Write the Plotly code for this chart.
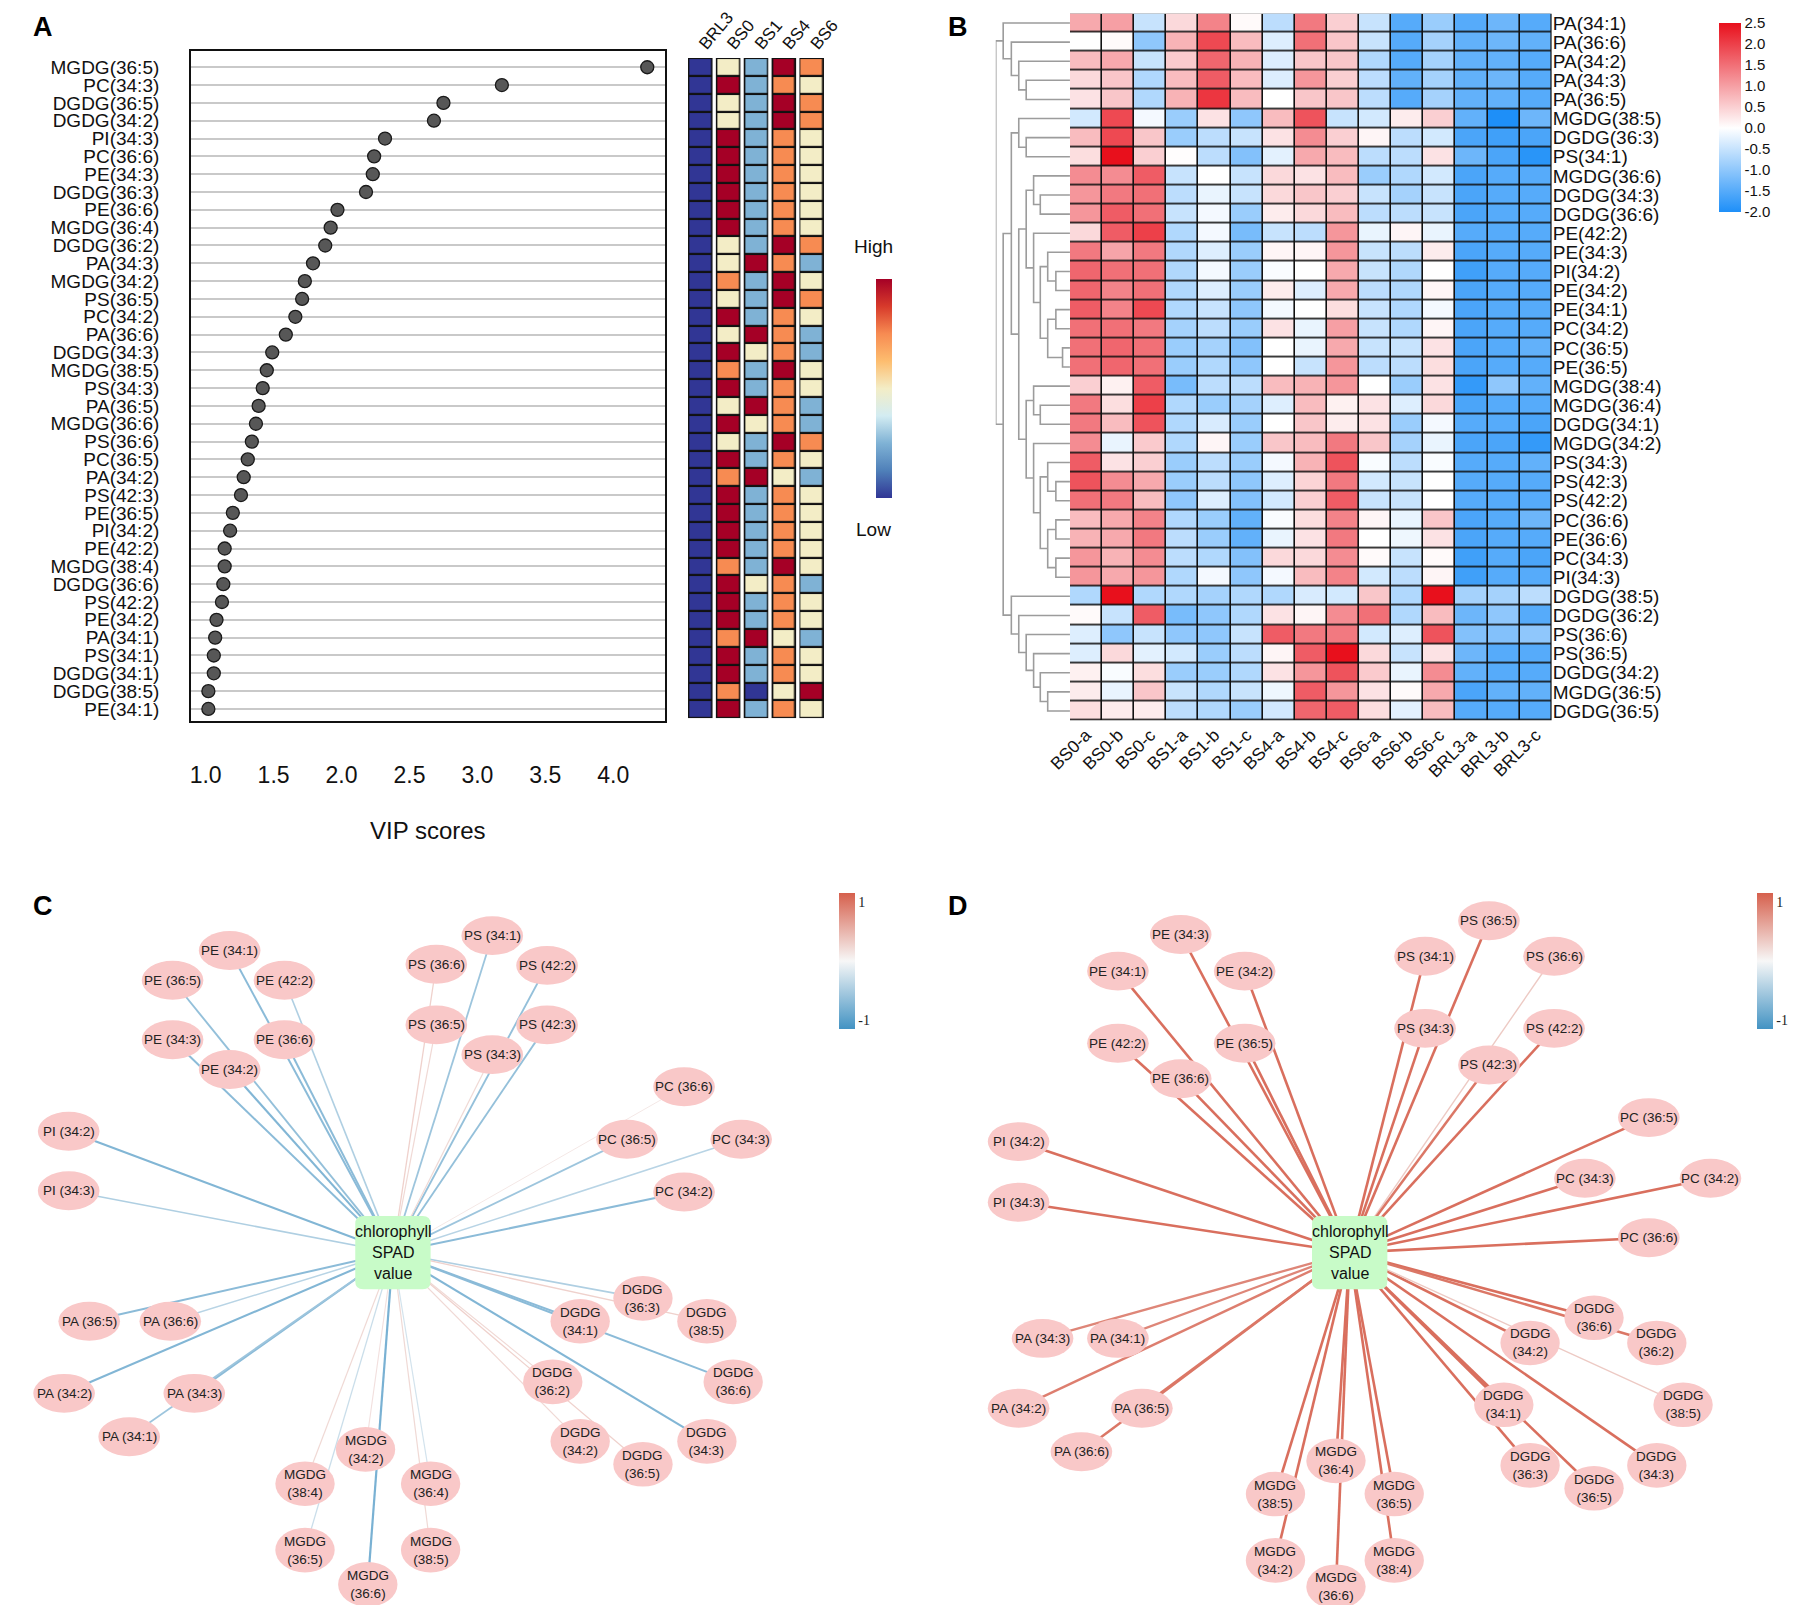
import plotly.graph_objects as go

# ---------------- placement helpers (layout only) ----------------
FIG_W, FIG_H = 1797, 1598


def px(x):
    return (x - 23.0) / 0.982 / 1568.0


def py(y):
    return 1 - (y - 7.0) / 1394.0


FONT = "Liberation Sans, Arial, sans-serif"
SERIF = "Liberation Serif, Times New Roman, serif"

# ---------------- Panel A data ----------------
vip_names = ["MGDG(36:5)", "PC(34:3)", "DGDG(36:5)", "DGDG(34:2)", "PI(34:3)", "PC(36:6)",
             "PE(34:3)", "DGDG(36:3)", "PE(36:6)", "MGDG(36:4)", "DGDG(36:2)", "PA(34:3)",
             "MGDG(34:2)", "PS(36:5)", "PC(34:2)", "PA(36:6)", "DGDG(34:3)", "MGDG(38:5)",
             "PS(34:3)", "PA(36:5)", "MGDG(36:6)", "PS(36:6)", "PC(36:5)", "PA(34:2)",
             "PS(42:3)", "PE(36:5)", "PI(34:2)", "PE(42:2)", "MGDG(38:4)", "DGDG(36:6)",
             "PS(42:2)", "PE(34:2)", "PA(34:1)", "PS(34:1)", "DGDG(34:1)", "DGDG(38:5)",
             "PE(34:1)"]
vip_scores = [4.25, 3.18, 2.75, 2.68, 2.32, 2.24, 2.23, 2.18, 1.97, 1.92, 1.88, 1.79,
              1.73, 1.71, 1.66, 1.59, 1.49, 1.45, 1.42, 1.39, 1.37, 1.34, 1.31, 1.28,
              1.26, 1.20, 1.18, 1.14, 1.14, 1.13, 1.12, 1.08, 1.07, 1.06, 1.06, 1.02,
              1.02]
x_ticks_vip = [1.0, 1.5, 2.0, 2.5, 3.0, 3.5, 4.0]
x_ticklabels_vip = ["1.0", "1.5", "2.0", "2.5", "3.0", "3.5", "4.0"]

# relative level (1 = Low ... 5 = High) for each group
group_names = ["BRL3", "BS0", "BS1", "BS4", "BS6"]
level_BRL3 = [1, 1, 1, 1, 1, 1, 1, 1, 1, 1, 1, 1, 1, 1, 1, 1, 1, 1, 1, 1, 1, 1, 1, 1, 1, 1, 1, 1, 1, 1, 1, 1, 1, 1, 1, 1, 1]
level_BS0 = [3, 5, 3, 3, 5, 5, 5, 5, 5, 5, 3, 3, 4, 3, 5, 3, 5, 4, 5, 3, 5, 3, 5, 4, 5, 5, 5, 5, 4, 5, 5, 5, 4, 5, 5, 4, 5]
level_BS1 = [2, 2, 2, 2, 2, 2, 2, 2, 2, 2, 2, 5, 2, 2, 2, 5, 3, 2, 2, 5, 3, 2, 2, 5, 2, 2, 2, 2, 2, 3, 2, 2, 5, 2, 2, 1, 2]
level_BS4 = [5, 4, 5, 5, 4, 4, 4, 4, 4, 4, 5, 4, 5, 5, 4, 4, 4, 5, 4, 4, 4, 5, 4, 3, 4, 4, 4, 4, 5, 4, 4, 4, 3, 4, 4, 3, 4]
level_BS6 = [4, 3, 4, 4, 3, 3, 3, 3, 3, 3, 4, 2, 3, 4, 3, 2, 2, 3, 3, 2, 2, 4, 3, 2, 3, 3, 3, 3, 3, 2, 3, 3, 2, 3, 3, 5, 3]

# ---------------- Panel B data ----------------
b_samples = ["BS0-a", "BS0-b", "BS0-c", "BS1-a", "BS1-b", "BS1-c", "BS4-a", "BS4-b", "BS4-c",
             "BS6-a", "BS6-b", "BS6-c", "BRL3-a", "BRL3-b", "BRL3-c"]
b_lipids = ["PA(34:1)", "PA(36:6)", "PA(34:2)", "PA(34:3)", "PA(36:5)", "MGDG(38:5)", "DGDG(36:3)",
            "PS(34:1)", "MGDG(36:6)", "DGDG(34:3)", "DGDG(36:6)", "PE(42:2)", "PE(34:3)", "PI(34:2)",
            "PE(34:2)", "PE(34:1)", "PC(34:2)", "PC(36:5)", "PE(36:5)", "MGDG(38:4)", "MGDG(36:4)",
            "DGDG(34:1)", "MGDG(34:2)", "PS(34:3)", "PS(42:3)", "PS(42:2)", "PC(36:6)", "PE(36:6)",
            "PC(34:3)", "PI(34:3)", "DGDG(38:5)", "DGDG(36:2)", "PS(36:6)", "PS(36:5)", "DGDG(34:2)",
            "MGDG(36:5)", "DGDG(36:5)"]
b_zscores = [
    [0.9, 1.0, -0.5, 0.4, 1.3, 0.05, -0.6, 1.4, 0.5, -0.5, -1.5, -0.9, -1.5, -1.3, -1.5],
    [0.0, 0.05, -1.0, 0.8, 1.9, 0.7, -0.3, 1.5, 0.6, -0.5, -1.5, -0.8, -1.4, -1.3, -1.4],
    [0.7, 0.9, -0.5, 0.55, 1.6, 0.8, -0.3, 0.6, 0.6, -0.7, -1.5, -0.8, -1.4, -1.4, -1.5],
    [0.4, 0.6, -0.7, 0.7, 1.7, 0.7, -0.3, 1.1, 0.5, -0.6, -1.4, -0.8, -1.4, -1.3, -1.5],
    [0.3, 0.6, -0.7, 0.8, 2.1, 0.7, 0.0, 0.6, 0.6, -0.6, -1.5, -0.8, -1.4, -1.4, -1.5],
    [-0.4, 1.9, -0.1, -0.9, 0.3, -1.0, 0.7, 1.8, -0.5, -0.4, 0.2, 0.5, -1.4, -2.0, -1.3],
    [0.7, 1.9, 0.6, -0.9, -0.6, -0.5, 0.3, 1.2, 0.5, 0.1, -0.6, -0.4, -1.6, -1.7, -1.6],
    [0.35, 2.5, 0.5, 0.02, -0.6, -1.1, -0.25, 0.9, 0.7, -0.6, -0.6, 0.3, -1.3, -1.6, -1.9],
    [1.2, 1.2, 1.7, -0.5, 0.0, -0.5, 0.4, 0.3, 0.7, -0.9, -0.7, -0.4, -1.6, -1.5, -1.5],
    [1.1, 1.4, 1.5, -0.6, -0.2, -0.5, 0.4, 0.6, 0.5, -0.5, -0.8, -0.5, -1.6, -1.5, -1.5],
    [1.1, 1.7, 1.5, -0.5, -0.1, -0.9, 0.2, 0.4, 0.7, -0.6, -0.6, -0.5, -1.6, -1.5, -1.5],
    [0.4, 1.7, 2.0, -0.7, -0.1, -1.2, -0.5, -0.6, 1.1, -0.2, 0.1, -0.2, -1.5, -1.5, -1.5],
    [1.4, 0.95, 1.4, -0.7, -0.3, -0.9, 0.1, 0.1, 1.1, -0.5, -0.6, 0.2, -1.6, -1.5, -1.5],
    [1.6, 1.5, 1.5, -0.7, -0.1, -0.9, -0.05, 0.0, 0.9, -0.5, -0.7, 0.0, -1.7, -1.5, -1.5],
    [1.6, 1.3, 1.5, -0.7, -0.3, -0.9, 0.2, -0.3, 0.9, -0.6, -0.7, 0.1, -1.6, -1.5, -1.5],
    [1.7, 1.3, 1.9, -0.7, -0.5, -1.0, -0.1, 0.0, 0.35, -0.5, -0.7, -0.1, -1.6, -1.5, -1.5],
    [1.5, 1.5, 1.4, -0.8, -0.6, -0.9, 0.3, -0.2, 1.0, -0.5, -0.7, 0.1, -1.6, -1.5, -1.5],
    [1.5, 1.6, 1.5, -0.9, -0.8, -1.1, 0.0, -0.2, 0.9, -0.5, -0.5, 0.3, -1.6, -1.5, -1.4],
    [1.5, 1.6, 1.5, -0.9, -0.7, -1.0, 0.0, -0.5, 1.1, -0.6, -0.6, 0.35, -1.6, -1.5, -1.5],
    [0.5, 0.15, 1.7, -1.2, -0.6, -0.6, 0.7, 0.8, 1.1, 0.0, -0.9, 0.3, -1.8, -1.0, -1.4],
    [1.4, 0.35, 2.0, -0.7, -0.9, -0.8, -0.3, 0.7, 0.15, 0.3, -0.3, 0.4, -1.6, -1.5, -1.5],
    [1.4, 0.7, 1.8, -0.7, -0.35, -0.9, 0.0, 0.6, 0.2, 0.3, -0.9, -0.1, -1.5, -1.5, -1.6],
    [1.2, -0.2, 0.55, -0.7, 0.1, -0.9, 0.6, 0.7, 1.4, 0.6, -0.8, -0.2, -1.6, -1.6, -1.8],
    [1.7, 0.3, 0.5, -0.9, -0.6, -0.9, -0.1, 0.8, 1.8, -0.05, -0.6, -0.05, -1.5, -1.5, -1.4],
    [1.8, 1.2, 0.9, -0.9, -0.6, -1.0, -0.3, 0.45, 1.4, -0.4, -0.5, 0.0, -1.5, -1.5, -1.5],
    [1.5, 1.4, 0.7, -1.0, -0.3, -1.1, -0.4, 0.5, 1.7, -0.5, -0.5, 0.0, -1.5, -1.5, -1.5],
    [0.7, 0.9, 1.3, -0.7, -0.9, -1.4, -0.05, 0.35, 1.3, 0.1, -0.2, 0.6, -1.6, -1.5, -1.3],
    [0.8, 0.9, 1.4, -0.6, -0.9, -1.4, -0.2, 0.3, 1.4, 0.0, -0.15, 0.3, -1.6, -1.5, -1.5],
    [1.1, 0.8, 1.2, -0.6, -0.7, -1.1, 0.4, 0.4, 1.2, 0.05, -0.5, 0.05, -1.7, -1.5, -1.6],
    [1.1, 0.9, 1.1, -0.7, -0.1, -1.0, -0.1, 0.7, 1.3, -0.4, -0.6, 0.1, -1.7, -1.5, -1.5],
    [-0.7, 2.5, -0.7, -0.7, -0.8, -0.7, -0.7, -0.35, -0.4, 0.6, -0.7, 2.6, -0.8, -0.8, -0.6],
    [0.05, -0.5, 1.7, -1.2, -1.0, -0.7, 0.3, 0.1, 1.2, 1.5, -0.7, 0.7, -1.3, -1.0, -1.5],
    [-0.3, -1.0, -0.5, -1.0, -1.0, -0.5, 1.7, 1.4, 1.4, -0.4, -0.3, 1.8, -1.1, -1.1, -1.0],
    [-0.3, 0.4, -0.25, -0.4, -0.9, -0.6, 0.1, 1.7, 2.5, 0.4, -0.5, 0.3, -1.3, -1.5, -1.5],
    [0.15, -0.05, 0.35, -0.9, -0.9, -0.7, 0.3, 1.1, 1.8, 0.55, -0.2, 1.2, -1.4, -1.5, -1.5],
    [0.2, -0.2, 0.6, -0.5, -0.7, -0.5, -0.15, 1.7, 1.1, 0.3, 0.05, 0.9, -1.6, -1.4, -1.4],
    [0.35, 0.2, 0.2, -0.6, -0.7, -0.9, -0.4, 1.6, 1.7, 0.35, -0.25, 0.7, -1.5, -1.5, -1.5],
]
b_cbar_ticks = [2.5, 2.0, 1.5, 1.0, 0.5, 0.0, -0.5, -1.0, -1.5, -2.0]
b_cbar_labels = ["2.5", "2.0", "1.5", "1.0", "0.5", "0.0", "-0.5", "-1.0", "-1.5", "-2.0"]

# row dendrogram: [merge height, left, right]; leaves are 1-based row numbers of b_lipids
dendro_tree = [1.0,
               [0.90, 1, [0.79, 2, [0.69, 3, [0.59, 4, 5]]]],
               [0.90,
                [0.79,
                 [0.69, 6, [0.59, 7, 8]],
                 [0.69,
                  [0.59,
                   [0.49, 9, [0.40, 10, 11]],
                   [0.49, 12, [0.40, [0.30, 13, [0.19, 14, 15]],
                                     [0.30, [0.19, 16, 17], [0.10, 18, 19]]]]],
                  [0.59,
                   [0.49, 20, [0.40, 21, 22]],
                   [0.49, 23, [0.40, [0.30, 24, [0.19, 25, 26]],
                                     [0.30, [0.19, 27, 28], [0.19, 29, 30]]]]]]],
                [0.79, 31, [0.69, 32, [0.59, 33, [0.49, 34, [0.40, 35, [0.30, 36, 37]]]]]]]]

# ---------------- Panels C / D data (network layout + correlation) ----------------
hub_label = "chlorophyll<br>SPAD<br>value"
c_hub = (340, 1093)
c_nodes = ["PE (34:1)", "PE (36:5)", "PE (42:2)", "PE (34:3)", "PE (36:6)", "PE (34:2)",
           "PS (34:1)", "PS (36:6)", "PS (42:2)", "PS (36:5)", "PS (42:3)", "PS (34:3)",
           "PC (36:6)", "PC (36:5)", "PC (34:3)", "PC (34:2)", "PI (34:2)", "PI (34:3)",
           "PA (36:5)", "PA (36:6)", "PA (34:2)", "PA (34:3)", "PA (34:1)",
           "DGDG (36:3)", "DGDG (38:5)", "DGDG (34:1)", "DGDG (36:2)", "DGDG (36:6)",
           "DGDG (34:2)", "DGDG (36:5)", "DGDG (34:3)",
           "MGDG (34:2)", "MGDG (38:4)", "MGDG (36:4)", "MGDG (36:5)", "MGDG (38:5)", "MGDG (36:6)"]
c_x = [197, 147, 245, 147, 245, 197, 427, 378, 475, 378, 475, 427, 595, 545, 645, 595, 56, 56,
       74, 145, 52, 166, 109, 559, 615, 504, 480, 638, 504, 559, 615, 316, 263, 373, 263, 373, 318]
c_y = [829, 855, 855, 907, 907, 933, 816, 841, 842, 894, 894, 920, 948, 994, 994, 1040, 987, 1039,
       1153, 1153, 1216, 1216, 1254, 1133, 1153, 1153, 1206, 1206, 1258, 1278, 1258, 1265, 1295,
       1295, 1353, 1353, 1383]
c_r = [-0.6, -0.55, -0.4, -0.6, -0.6, -0.65, -0.5, 0.25, -0.55, 0.2, -0.55, 0.2, 0.1, -0.5, -0.35,
       -0.6, -0.65, -0.4, -0.6, -0.35, -0.65, -0.6, -0.5, -0.4, 0.25, -0.6, 0.2, -0.6, 0.2, 0.25,
       -0.65, 0.15, 0.2, -0.2, -0.25, 0.2, -0.7]

d_hub = (1178, 1093)
d_nodes = ["PE (34:3)", "PE (34:1)", "PE (34:2)", "PE (42:2)", "PE (36:5)", "PE (36:6)",
           "PS (36:5)", "PS (34:1)", "PS (36:6)", "PS (34:3)", "PS (42:2)", "PS (42:3)",
           "PC (36:5)", "PC (34:3)", "PC (34:2)", "PC (36:6)", "PI (34:2)", "PI (34:3)",
           "PA (34:3)", "PA (34:1)", "PA (34:2)", "PA (36:5)", "PA (36:6)",
           "DGDG (36:6)", "DGDG (34:2)", "DGDG (36:2)", "DGDG (38:5)", "DGDG (34:1)",
           "DGDG (36:3)", "DGDG (36:5)", "DGDG (34:3)",
           "MGDG (36:4)", "MGDG (38:5)", "MGDG (36:5)", "MGDG (34:2)", "MGDG (38:4)", "MGDG (36:6)"]
d_x = [1030, 975, 1086, 975, 1086, 1030, 1300, 1244, 1357, 1244, 1357, 1300, 1440, 1384, 1494,
       1440, 888, 888, 909, 975, 888, 996, 943, 1392, 1336, 1447, 1470, 1313, 1336, 1392, 1447,
       1166, 1113, 1217, 1113, 1217, 1166]
d_y = [815, 847, 847, 910, 910, 941, 803, 834, 834, 897, 897, 929, 975, 1028, 1028, 1080, 996,
       1049, 1168, 1168, 1229, 1229, 1267, 1150, 1172, 1172, 1226, 1226, 1279, 1299, 1279, 1275,
       1304, 1304, 1362, 1362, 1385]
d_r = [0.9, 0.9, 0.9, 0.9, 0.9, 0.9, 0.9, 0.9, 0.3, 0.9, 0.9, 0.85, 0.9, 0.9, 0.9, 0.9, 0.9, 0.9,
       0.75, 0.75, 0.8, 0.85, 0.85, 0.9, 0.9, 0.85, 0.3, 0.9, 0.9, 0.9, 0.9, 0.9, 0.9, 0.9, 0.9,
       0.9, 0.9]

# ---------------- colours ----------------
LEVEL_SCALE = [[0.0, "#313695"], [0.125, "#4f80b9"], [0.25, "#7fb2d5"], [0.375, "#d3ecf2"],
               [0.5, "#f3edc6"], [0.625, "#fdbd6f"], [0.75, "#f78b52"], [0.875, "#d73a2b"],
               [1.0, "#a50026"]]
Z_SCALE = [[0.0, "#1e8ff8"], [2 / 4.5, "#ffffff"], [1.0, "#e8101c"]]
NET_NEG, NET_MID, NET_POS = (67, 147, 195), (247, 247, 247), (214, 96, 77)
NET_SCALE = [[0.0, "#4393c3"], [0.5, "#f7f7f7"], [1.0, "#d6604d"]]


def net_color(r):
    r = max(-1.0, min(1.0, r))
    a, b = (NET_MID, NET_POS) if r >= 0 else (NET_MID, NET_NEG)
    t = abs(r)
    c = [round(a[i] + (b[i] - a[i]) * t) for i in range(3)]
    return "rgb(%d,%d,%d)" % tuple(c)


fig = go.Figure()
shapes = []
annotations = []

# ---------------- Panel A: VIP dot plot ----------------
rows_a = list(range(len(vip_names)))
fig.add_trace(go.Scatter(
    x=vip_scores, y=rows_a, mode="markers", xaxis="x", yaxis="y",
    marker=dict(size=13, color="#575757", line=dict(color="#1a1a1a", width=1.3)),
    hoverinfo="skip", showlegend=False))

# Panel A: group level heat strip
z_levels = [[level_BRL3[i], level_BS0[i], level_BS1[i], level_BS4[i], level_BS6[i]]
            for i in range(len(vip_names))]
fig.add_trace(go.Heatmap(
    z=z_levels, x=list(range(len(group_names))), y=rows_a, xaxis="x2", yaxis="y2",
    zmin=1, zmax=5, colorscale=LEVEL_SCALE, xgap=6.4, ygap=2.2,
    colorbar=dict(x=px(754), xanchor="left", y=py(337.5), yanchor="middle",
                  len=(442 - 233) / 1394.0, lenmode="fraction", thickness=16,
                  showticklabels=False, ticks="", outlinewidth=0),
    hoverinfo="skip"))
col_px = (px(719) - px(597)) * FIG_W / len(group_names)
inset = 1.7 / col_px
for i in range(len(group_names)):
    shapes.append(dict(type="rect", xref="x2", yref="y2", x0=i - 0.5 + inset, x1=i + 0.5 - inset,
                       y0=-0.5, y1=len(vip_names) - 0.5, fillcolor="#111111",
                       line=dict(width=0), layer="below"))

# ---------------- Panel B: clustered heatmap ----------------
fig.add_trace(go.Heatmap(
    z=b_zscores, x=list(range(len(b_samples))), y=list(range(len(b_lipids))),
    xaxis="x3", yaxis="y3", zmin=-2.0, zmax=2.5, colorscale=Z_SCALE, xgap=1.6, ygap=1.6,
    colorbar=dict(x=px(1493), xanchor="left", y=py(101), yanchor="middle",
                  len=(193 - 10) / 1394.0, lenmode="fraction", thickness=22,
                  tickvals=b_cbar_ticks, ticktext=b_cbar_labels, ticks="",
                  tickfont=dict(family=FONT, size=15, color="#111"), outlinewidth=0),
    hoverinfo="skip"))
shapes.append(dict(type="rect", xref="x3", yref="y3", x0=-0.5, x1=len(b_samples) - 0.5,
                   y0=-0.5, y1=len(b_lipids) - 0.5, fillcolor="#111111",
                   line=dict(width=0), layer="below"))

# dendrogram
dx, dy = [], []


def walk(node):
    if isinstance(node, int):
        return 0.0, node - 1
    h, left, right = node
    hl, yl = walk(left)
    hr, yr = walk(right)
    dx.extend([hl, h, h, hr, None])
    dy.extend([yl, yl, yr, yr, None])
    return h, (yl + yr) / 2


walk(dendro_tree)
fig.add_trace(go.Scatter(x=dx, y=dy, mode="lines", xaxis="x4", yaxis="y4",
                         line=dict(color="#9c9c9c", width=1.6), hoverinfo="skip",
                         showlegend=False))

# ---------------- Panels C / D: correlation networks ----------------


def rounded_rect(cx, cy, w, h, r):
    x0, x1, y0, y1 = cx - w / 2, cx + w / 2, cy - h / 2, cy + h / 2
    return (f"M {x0 + r},{y0} L {x1 - r},{y0} Q {x1},{y0} {x1},{y0 + r} "
            f"L {x1},{y1 - r} Q {x1},{y1} {x1 - r},{y1} L {x0 + r},{y1} "
            f"Q {x0},{y1} {x0},{y1 - r} L {x0},{y0 + r} Q {x0},{y0} {x0 + r},{y0} Z")


def add_network(names, xs, ys, rs, hub, xa, ya, cbar_x):
    for n, x, y, r in zip(names, xs, ys, rs):
        fig.add_trace(go.Scatter(x=[hub[0], x], y=[hub[1], y], mode="lines", xaxis=xa, yaxis=ya,
                                 line=dict(color=net_color(r), width=0.8 + 2.0 * abs(r)),
                                 hoverinfo="skip", showlegend=False))
    # colour legend bar
    fig.add_trace(go.Scatter(
        x=[hub[0], hub[0]], y=[hub[1], hub[1]], mode="markers", xaxis=xa, yaxis=ya,
        marker=dict(size=1, opacity=0, color=[-1, 1], colorscale=NET_SCALE, cmin=-1.15, cmax=1.15,
                    showscale=True,
                    colorbar=dict(x=px(cbar_x), xanchor="left", y=py(838.5), yanchor="middle",
                                  len=119 / 1394.0, lenmode="fraction", thickness=16,
                                  tickvals=[1, -1], ticktext=["1", "-1"], ticks="",
                                  tickfont=dict(family=SERIF, size=14, color="#222"),
                                  outlinewidth=0, xpad=0, ypad=0)),
        hoverinfo="skip", showlegend=False))
    for n, x, y in zip(names, xs, ys):
        two_line = n.startswith("DGDG") or n.startswith("MGDG")
        rx, ry = (26, 19.5) if two_line else (27, 17)
        shapes.append(dict(type="circle", xref=xa, yref=ya, x0=x - rx, x1=x + rx,
                           y0=y - ry, y1=y + ry, fillcolor="#f9c8c8", line=dict(width=0),
                           layer="above"))
        label = n.replace(" ", "<br>") if two_line else n
        annotations.append(dict(x=x, y=y, xref=xa, yref=ya, text=label, showarrow=False,
                                font=dict(family=FONT, size=13.5, color="#222")))
    shapes.append(dict(type="path", xref=xa, yref=ya, path=rounded_rect(hub[0], hub[1], 66, 64, 7),
                       fillcolor="#c8fbc8", line=dict(width=0), layer="above"))
    annotations.append(dict(x=hub[0], y=hub[1], xref=xa, yref=ya, text=hub_label,
                            showarrow=False, font=dict(family=FONT, size=16, color="#111")))


add_network(c_nodes, c_x, c_y, c_r, c_hub, "x5", "y5", 731)
add_network(d_nodes, d_x, d_y, d_r, d_hub, "x6", "y6", 1535)

# ---------------- text annotations ----------------
for letter, lx, ly in [("A", 23, 7), ("B", 824, 7), ("C", 23, 775), ("D", 824, 775)]:
    annotations.append(dict(x=px(lx), y=py(ly), xref="paper", yref="paper", xanchor="left",
                            yanchor="top", text="<b>%s</b>" % letter,
                            showarrow=False, font=dict(family=FONT, size=27, color="#000")))
annotations.append(dict(x=px(371), y=py(724), xref="paper", yref="paper", text="VIP scores",
                        xanchor="center", yanchor="middle",
                        showarrow=False, font=dict(family=FONT, size=24, color="#111")))
annotations.append(dict(x=px(761), y=py(214), xref="paper", yref="paper", text="High",
                        xanchor="center", yanchor="middle",
                        showarrow=False, font=dict(family=FONT, size=19, color="#111")))
annotations.append(dict(x=px(761), y=py(461), xref="paper", yref="paper", text="Low",
                        xanchor="center", yanchor="middle",
                        showarrow=False, font=dict(family=FONT, size=19, color="#111")))

n_rows = len(vip_names)
hidden = dict(visible=False, showgrid=False, zeroline=False)

fig.update_layout(
    width=FIG_W, height=FIG_H, margin=dict(l=0, r=0, t=0, b=0),
    paper_bgcolor="white", plot_bgcolor="white", showlegend=False,
    font=dict(family=FONT, color="#111"),
    xaxis=dict(domain=[px(163), px(578)], range=[0.891, 4.378], anchor="y",
               tickvals=x_ticks_vip, ticktext=x_ticklabels_vip, showgrid=False, zeroline=False,
               showline=True, mirror=True, linecolor="#111", linewidth=1.5,
               ticks="outside", ticklen=33, tickcolor="rgba(0,0,0,0)",
               tickfont=dict(family=FONT, size=23, color="#111")),
    yaxis=dict(domain=[py(628), py(43)], range=[n_rows - 0.35, -0.9], anchor="x",
               tickvals=rows_a, ticktext=vip_names, showgrid=True, gridcolor="#c9c9c9",
               gridwidth=1.5, zeroline=False, showline=True, mirror=True, linecolor="#111",
               linewidth=1.5, ticks="outside", ticklen=26, tickcolor="rgba(0,0,0,0)",
               tickfont=dict(family=FONT, size=19, color="#111")),
    xaxis2=dict(domain=[px(597), px(719)], range=[-0.5, 4.5], anchor="y2", side="top",
                tickvals=list(range(len(group_names))), ticktext=group_names, tickangle=-50,
                showgrid=False, zeroline=False, showline=False, ticks="",
                tickfont=dict(family=FONT, size=17, color="#111")),
    yaxis2=dict(domain=[py(626), py(49)], range=[n_rows - 0.5, -0.5], anchor="x2", **hidden),
    xaxis3=dict(domain=[px(933), px(1355)], range=[-0.5, len(b_samples) - 0.5], anchor="y3",
                tickvals=list(range(len(b_samples))), ticktext=b_samples, tickangle=-45,
                showgrid=False, zeroline=False, showline=False, ticks="",
                tickfont=dict(family=FONT, size=17.5, color="#111")),
    yaxis3=dict(domain=[py(628), py(10)], range=[len(b_lipids) - 0.5, -0.5], anchor="x3",
                side="right", tickvals=list(range(len(b_lipids))), ticktext=b_lipids,
                showgrid=False, zeroline=False, showline=False, ticks="",
                tickfont=dict(family=FONT, size=19, color="#111")),
    xaxis4=dict(domain=[px(868), px(933)], range=[1.0, 0.0], anchor="y4", **hidden),
    yaxis4=dict(domain=[py(628), py(10)], range=[len(b_lipids) - 0.5, -0.5], anchor="x4", **hidden),
    xaxis5=dict(domain=[px(23), px(790)], range=[23, 790], anchor="y5", **hidden),
    yaxis5=dict(domain=[py(1401), py(770)], range=[1401, 770], anchor="x5", **hidden),
    xaxis6=dict(domain=[px(790), px(1560)], range=[790, 1560], anchor="y6", **hidden),
    yaxis6=dict(domain=[py(1401), py(770)], range=[1401, 770], anchor="x6", **hidden),
    shapes=shapes, annotations=annotations,
)

fig.write_html("out.html")
